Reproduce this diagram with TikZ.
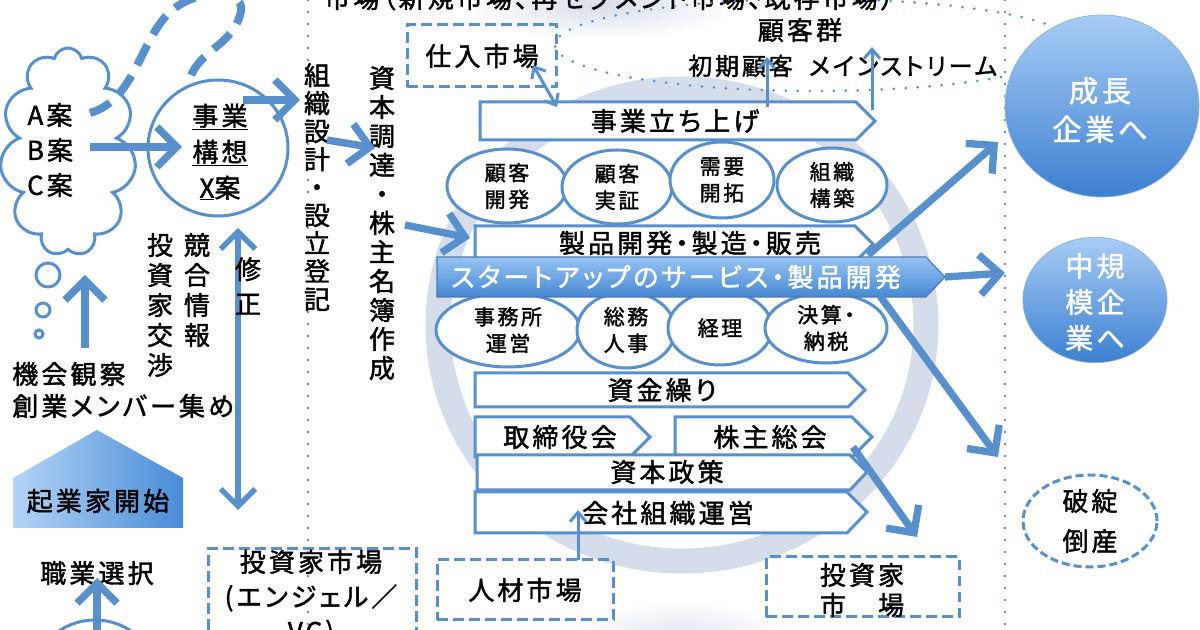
\documentclass[tikz,border=0pt]{standalone}
\usepackage{fontspec}
\setmainfont{Noto Sans CJK JP}[LetterSpace=12, RawFeature=+palt, FakeBold=1.6]
\usetikzlibrary{arrows.meta,shapes.geometric,shapes.symbols}
\definecolor{ab}{RGB}{88,144,206}
\definecolor{ringc}{RGB}{214,221,234}
\definecolor{bnTop}{RGB}{150,195,242}
\definecolor{bnBot}{RGB}{70,136,212}
\definecolor{cTop}{RGB}{168,204,245}
\definecolor{cBot}{RGB}{60,128,208}
\definecolor{hsL}{RGB}{180,212,246}
\definecolor{hsR}{RGB}{72,140,215}
\newcommand\myfA{\fontsize{19.5}{26}\selectfont}
\newcommand\myfB{\fontsize{15.75}{20}\selectfont}
\newcommand\myfC{\fontsize{18}{24}\selectfont}
\tikzset{
 ol/.style={draw=ab, line width=2.25pt},
 hp/.style={draw=ab, line width=2.25pt, fill=white},
 ell/.style={ellipse, draw=ab, line width=2.25pt, fill=white, inner sep=0pt, font=\myfB, align=center},
 dbox/.style={draw=ab, line width=2.25pt, dash pattern=on 8pt off 4pt},
 dotl/.style={draw=ab, line width=2.2pt, line cap=round, dash pattern=on 0pt off 9pt},
 bigarr/.style={draw=ab, line width=5.5pt, -{Straight Barb[length=15pt,width=30pt]}},
 midarr/.style={draw=ab, line width=4pt, {Straight Barb[length=13pt,width=26pt]}-{Straight Barb[length=13pt,width=26pt]}},
 thinarr/.style={draw=ab, line width=2.25pt, -{Straight Barb[length=7pt,width=12pt]}},
 dblthin/.style={draw=ab, line width=2.25pt, {Straight Barb[length=7pt,width=12pt]}-{Straight Barb[length=7pt,width=12pt]}},
 lbl/.style={font=\myfA, inner sep=0pt, align=center},
 vlbl/.style={inner sep=0pt, align=center},
 bubble/.style={ellipse, top color=cTop, bottom color=cBot, draw=ab!70, line width=0.5pt},
 wtxt/.style={inner sep=0pt, align=center, text=white},
}
\begin{document}
\begin{tikzpicture}[x=0.75pt,y=-0.75pt]
\useasboundingbox (0,0) rectangle (1200,630);
\clip (0,0) rectangle (1200,630);
\fill[white] (0,0) rectangle (1200,630);
% soft background blobs
\shade[inner color=ringc, outer color=white] (600,5) ellipse (140 and 35);
\shade[inner color=ringc, outer color=white] (680,650) ellipse (120 and 50);
% ring
\draw[ringc, line width=18.75pt] (682,325) ellipse (244 and 236);
% top market text (cut off)
\node[lbl, anchor=west] (mkt) at (324,-2) {市場（新規市場、再セグメント市場、既存市場）};
% dotted guides
\draw[dotl] (815,45) ellipse (260 and 46);
\draw[dotl] (308,0) -- (308,630);
\draw[dotl] (1005,0) -- (1005,630);

% cloud and thought bubbles
\node[cloud, cloud puffs=11, cloud ignores aspect, draw=ab, line width=2.25pt, fill=white, minimum width=102pt, minimum height=156pt] (cloud) at (68,152) {};
\node[font=\fontsize{19.5}{26.25}\selectfont, align=center, inner sep=0pt] (abc) at (50,150) {A案\\B案\\C案};
\draw[ol] (48,275) circle (12) (43,310) circle (7) (39,334) circle (4);

% business plan circle
\node[ellipse, draw=ab, line width=2.25pt, fill=white, minimum width=105pt, minimum height=102pt] (plan) at (218,148) {};
\node[font=\fontsize{19.5}{27}\selectfont, align=center, inner sep=0pt] (plantxt) at (220,152) {\underline{事業}\\\underline{構想}\\\underline{X}案};

% dashed loop
\draw[ab, line width=6pt, dash pattern=on 17pt off 9pt] (90,113) .. controls (135,100) and (140,40) .. (170,12) .. controls (200,-15) and (250,-10) .. (240,15) .. controls (232,45) and (200,50) .. (190,78);

% vertical texts
\node[vlbl, font=\fontsize{19.5}{21}\selectfont] (col1) at (317,187) {組\\織\\設\\計\\・\\設\\立\\登\\記};
\node[vlbl, font=\fontsize{19.5}{21.75}\selectfont] (col2) at (382,223) {資\\本\\調\\達\\・\\株\\主\\名\\簿\\作\\成};
\node[vlbl, font=\fontsize{19.5}{22.5}\selectfont] (kosho) at (160,305) {投\\資\\家\\交\\渉};
\node[vlbl, font=\fontsize{19.5}{22.5}\selectfont] (kyogo) at (197,290) {競\\合\\情\\報};

% market boxes
\node[dbox, lbl, minimum width=112pt, minimum height=46.5pt] (shiire) at (482,56) {仕入市場};
\node[lbl] (kokyakugun) at (800,30) {顧客群};
\node[font=\myfC, inner sep=0pt, anchor=west] (shoki) at (688,66) {初期顧客\hspace{12pt}メインストリーム};

% process bars and ellipses
\draw[hp] (480,102) -- (856,102) -- (875,121) -- (856,140) -- (480,140) -- cycle;
\node[lbl] (tachiage) at (675,121) {事業立ち上げ};

\node[ell, minimum width=90pt, minimum height=55.5pt] (e1) at (507,186) {顧客\\開発};
\node[ell, minimum width=82.5pt, minimum height=55.5pt] (e2) at (617,187) {顧客\\実証};
\node[ell, minimum width=78pt, minimum height=57pt] (e3) at (722,180) {需要\\開拓};
\node[ell, minimum width=82.5pt, minimum height=55.5pt] (e4) at (832,185) {組織\\構築};

\draw[hp] (475,226) -- (855,226) -- (873,244) -- (855,262) -- (475,262) -- cycle;
\node[lbl] (seihin) at (690,243) {製品開発・製造・販売};

\node[ell, minimum width=108pt, minimum height=55.5pt] (f1) at (508,330) {事務所\\運営};
\node[ell, minimum width=73.5pt, minimum height=57pt] (f2) at (626,330) {総務\\人事};
\node[ell, minimum width=78pt, minimum height=55.5pt] (f3) at (720,328) {経理};
\node[ell, minimum width=91.5pt, minimum height=52.5pt] (f4) at (826,328) {決算・\\納税};

\shade[top color=bnTop, bottom color=bnBot, draw=ab!85!black, line width=0.8pt] (437,257) -- (926,257) -- (945,277) -- (926,297) -- (437,297) -- cycle;
\node[lbl, text=white] (banner) at (676,277) {スタートアップのサービス・製品開発};

\draw[hp] (475,373) -- (848,373) -- (865,390) -- (848,407) -- (475,407) -- cycle;
\node[lbl] (shikin) at (662,390) {資金繰り};
\draw[hp] (475,417) -- (630,417) -- (650,437) -- (630,457) -- (475,457) -- cycle;
\node[lbl] (torishimari) at (560,437) {取締役会};
\draw[hp] (675,417) -- (852,417) -- (872,437) -- (852,457) -- (675,457) -- cycle;
\node[lbl] (kabunushi) at (770,437) {株主総会};
\draw[hp] (477,455) -- (850,455) -- (867,472) -- (850,490) -- (477,490) -- cycle;
\node[lbl] (seisaku) at (667,472) {資本政策};
\draw[hp] (475,492) -- (847,492) -- (867,512) -- (847,533) -- (475,533) -- cycle;
\node[lbl] (kaisha) at (668,513) {会社組織運営};

% bottom market boxes
\node[dbox, lbl, minimum width=132pt, minimum height=45pt] (jinzai) at (525,590) {人材市場};
\node[dbox, minimum width=145pt, minimum height=45pt] (toushiR) at (863,587) {};
\node[font=\fontsize{19.5}{22.5}\selectfont, align=center, inner sep=0pt] (toushiRt) at (862,590) {投資家\\市　場};
\node[dbox, minimum width=156pt, minimum height=115pt, anchor=north west] (toushiL) at (207,547) {};
\node[font=\fontsize{19.5}{26}\selectfont, align=center, inner sep=0pt] (toushiLt) at (311,598) {投資家市場\\(エンジェル／\\VC)};

% outcome circles
\node[bubble, minimum width=145.5pt, minimum height=136.5pt] (seicho) at (1102,106) {};
\node[wtxt, font=\fontsize{22}{29}\selectfont] (seichot) at (1100,110) {成長\\企業へ};
\node[bubble, minimum width=108pt, minimum height=94pt] (chukibo) at (1095,300) {};
\node[wtxt, font=\fontsize{21}{27}\selectfont] (chukibot) at (1095,302) {中規\\模企\\業へ};
\node[ellipse, draw=ab, line width=2.25pt, dash pattern=on 6pt off 3pt, minimum width=100.5pt, minimum height=69pt] (hatan) at (1090,521) {};
\node[font=\fontsize{19.5}{30}\selectfont, align=center, inner sep=0pt] (hatant) at (1090,521) {破綻\\倒産};

% left side
\shade[left color=hsL, right color=hsR] (13,478) -- (97,430) -- (183,478) -- (183,528) -- (13,528) -- cycle;
\node[lbl] (kigyoka) at (98,501) {起業家開始};
\node[lbl, anchor=west] (kikai) at (12,374) {機会観察};
\node[lbl, anchor=west] (sogyo) at (12,406) {創業メンバー集め};
\node[lbl] (shokugyo) at (97,573) {職業選択};
\draw[ol] (95,692) ellipse (68 and 72);

% arrow end points
\coordinate (pB) at (90,147);   \coordinate (pPlanIn) at (182,147);
\coordinate (pPlanOut) at (243,100); \coordinate (pCol1In) at (300,100);
\coordinate (pCol1Out) at (327,140); \coordinate (pCol2In) at (375,148);
\coordinate (pCol2Out) at (405,225); \coordinate (pSeihinIn) at (470,238);
\coordinate (pShiireA) at (533,65); \coordinate (pShiireB) at (557,107);
\coordinate (pUp1a) at (767,107); \coordinate (pUp1b) at (767,57);
\coordinate (pUp2a) at (872,110); \coordinate (pUp2b) at (872,47);
\coordinate (pG1) at (868,255); \coordinate (pG1e) at (998,142);
\coordinate (pG2) at (945,277); \coordinate (pG2e) at (1005,273);
\coordinate (pG3) at (880,296); \coordinate (pG3e) at (998,457);
\coordinate (pK) at (853,447); \coordinate (pKe) at (917,537);
\coordinate (pJ) at (578,560); \coordinate (pJe) at (578,510);
\coordinate (pS1) at (238,228); \coordinate (pS2) at (238,510);
\coordinate (pObs) at (85,348); \coordinate (pObse) at (85,275);
\coordinate (pJob) at (97,640); \coordinate (pJobe) at (97,578);

% arrows
\draw[bigarr] (pB) -- (pPlanIn);
\draw[bigarr] (pPlanOut) -- (pCol1In);
\draw[bigarr] (pCol1Out) -- (pCol2In);
\draw[bigarr] (pCol2Out) -- (pSeihinIn);
\draw[dblthin] (pShiireA) -- (pShiireB);
\draw[thinarr] (pUp1a) -- (pUp1b);
\draw[thinarr] (pUp2a) -- (pUp2b);
\draw[bigarr] (pG1) -- (pG1e);
\draw[bigarr] (pG2) -- (pG2e);
\draw[bigarr] (pG3) -- (pG3e);
\draw[bigarr] (pK) -- (pKe);
\draw[thinarr] (pJ) -- (pJe);
\draw[midarr] (pS1) -- (pS2);
\draw[bigarr] (pObs) -- (pObse);
\draw[bigarr] (pJob) -- (pJobe);
\node[vlbl, font=\fontsize{19.5}{26}\selectfont] (shusei) at (248,286) {修\\正};
\end{tikzpicture}
\end{document}
